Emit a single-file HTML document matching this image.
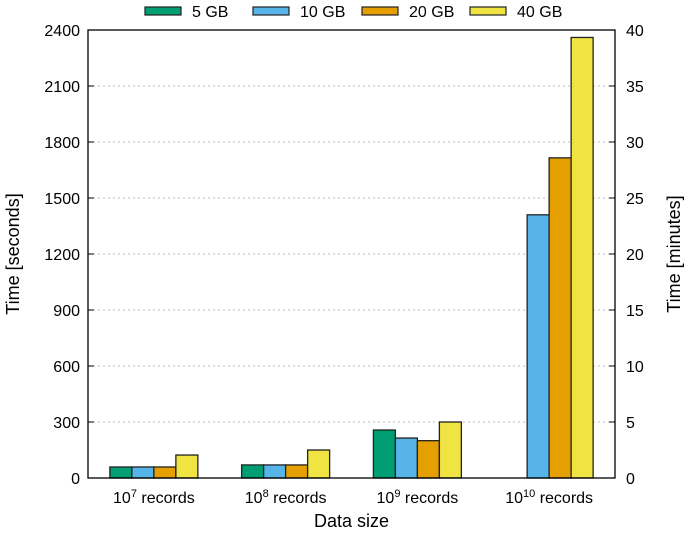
<!DOCTYPE html>
<html><head><meta charset="utf-8"><style>
body{margin:0;background:#fff}
svg text{font-family:"Liberation Sans",Arial,sans-serif;fill:#000}
</style></head><body>
<svg id="c" width="685" height="532" xmlns="http://www.w3.org/2000/svg"></svg>
<script>
const categories=["7","8","9","10"];
const series=["5 GB","10 GB","20 GB","40 GB"];
const colors=["#009e73","#56b4e9","#e69f00","#f0e442"];
const s5=[59,70,257,0];
const s10=[59,70,214,1410];
const s20=[59,70,200,1715];
const s40=[123,150,300,2360];
const leftTicks=[0,300,600,900,1200,1500,1800,2100,2400];
const rightTicks=[0,5,10,15,20,25,30,35,40];
const values=[s5,s10,s20,s40];
const NS="http://www.w3.org/2000/svg";
const svg=document.getElementById('c');
const X0=88,X1=615,Y0=478,Y1=30,MAX=2400;
const y=v=>Y0-(v/MAX)*(Y0-Y1);
const gw=(X1-X0)/categories.length, bw=22;
function el(t,a,p){const e=document.createElementNS(NS,t);for(const k in a)e.setAttribute(k,a[k]);(p||svg).appendChild(e);return e;}
leftTicks.forEach(t=>{
  if(t>0&&t<MAX){const g=el('line',{x1:X0,x2:X1,y1:y(t),y2:y(t),stroke:'#bbb','stroke-dasharray':'2,3'});
  
  }
  const tl=el('text',{x:80,y:y(t)+6,'text-anchor':'end','font-size':16});tl.textContent=t;
  
  
  el('line',{x1:X0,x2:X0+6,y1:y(t),y2:y(t),stroke:'#000'});
  el('line',{x1:X1-6,x2:X1,y1:y(t),y2:y(t),stroke:'#000'});
});
rightTicks.forEach(t=>{
  const tl=el('text',{x:626,y:y(t*60)+6,'font-size':16});tl.textContent=t;
  
  
});
categories.forEach((c,i)=>{
  const cx=X0+gw*(i+0.5);
  values.forEach((s,j)=>{
    const x=cx-2*bw+j*bw, v=s[i];
    if(v>0){const r=el('rect',{x:x,y:y(v),width:bw,height:Y0-y(v),fill:colors[j],stroke:'#222','stroke-width':1.3});
    
    }
  });
  const t=el('text',{x:cx,y:503,'text-anchor':'middle','font-size':16});
  t.innerHTML='10<tspan dy="-6" font-size="11">'+c+'</tspan><tspan dy="6"> records</tspan>';
  
  
});
const fr=el('rect',{x:X0,y:Y1,width:X1-X0,height:Y0-Y1,fill:'none',stroke:'#000','stroke-width':1.3});


const xt=el('text',{x:(X0+X1)/2,y:527,'text-anchor':'middle','font-size':18});xt.textContent='Data size';


const yl=el('text',{x:0,y:0,'text-anchor':'middle','font-size':18,transform:'translate(19,'+(Y0+Y1)/2+') rotate(-90)'});yl.textContent='Time [seconds]';


const yr=el('text',{x:0,y:0,'text-anchor':'middle','font-size':18,transform:'translate(680,'+(Y0+Y1)/2+') rotate(-90)'});yr.textContent='Time [minutes]';


const lx=[145,253,362,470];
series.forEach((s,j)=>{
  const r=el('rect',{x:lx[j],y:7,width:36,height:8,fill:colors[j],stroke:'#222','stroke-width':1.2});
  
  
  const t=el('text',{x:lx[j]+47,y:17,'font-size':16});t.textContent=s;
  
  
});
</script>
</body></html>
